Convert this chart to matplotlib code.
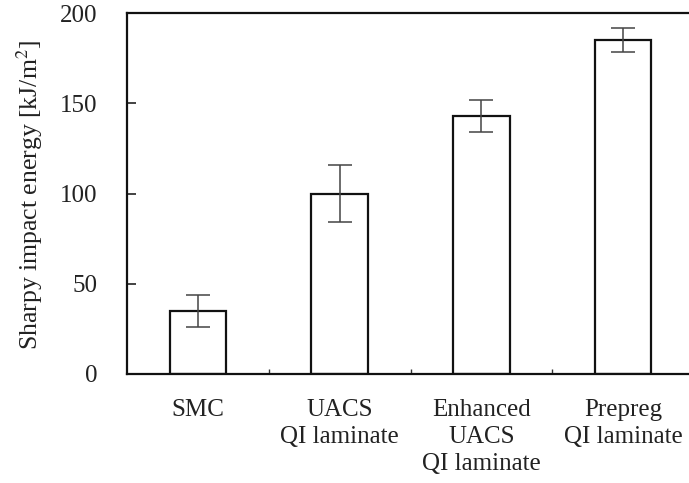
import matplotlib
matplotlib.use("Agg")
import matplotlib.pyplot as plt
import numpy as np

categories = ["SMC", "UACS\nQI laminate", "Enhanced\nUACS\nQI laminate", "Prepreg\nQI laminate"]
values = [35, 100, 143, 185]
errors = [8.7, 16, 9, 6.6]
yticks = [0, 50, 100, 150, 200]

plt.rcParams['font.family'] = ['Liberation Serif', 'DejaVu Serif']
plt.rcParams['mathtext.fontset'] = 'stix'

fig = plt.figure(figsize=(6.89, 4.83), dpi=100)
W, H = 689, 483
ax = fig.add_axes([127 / W, 109 / H, (694 - 127) / W, (374 - 13) / H])

x = np.arange(len(categories))
ax.bar(x, values, width=0.4, color='white', edgecolor='#111111', linewidth=1.6, zorder=2)
ax.errorbar(x, values, yerr=errors, fmt='none', ecolor='#444444', elinewidth=1.1,
            capsize=8.6, capthick=1.1, zorder=3)

ax.set_xlim(-0.5, 3.5)
ax.set_ylim(0, 200)
ax.set_yticks(yticks)
ax.set_yticklabels([str(t) for t in yticks])
ax.set_xticks(x)
ax.set_xticklabels(categories, linespacing=1.3)
ax.set_xticks([0.5, 1.5, 2.5], minor=True)

ax.tick_params(axis='y', direction='in', length=6.5, width=1.2, pad=21, labelsize=18, colors='#222222')
ax.tick_params(axis='x', which='major', length=0, pad=18, labelsize=18, colors='#222222')
ax.tick_params(axis='x', which='minor', direction='in', length=3.5, width=1.0, color='#333333')

for side in ['left', 'bottom', 'top', 'right']:
    ax.spines[side].set_linewidth(1.6)
    ax.spines[side].set_color('#111111')

ax.set_ylabel("Sharpy impact energy [kJ/m$^2$]", fontsize=18.5, color='#222222')
ax.yaxis.set_label_coords(-82 / (694 - 127), 0.495)

fig.savefig("out.png", dpi=100)
